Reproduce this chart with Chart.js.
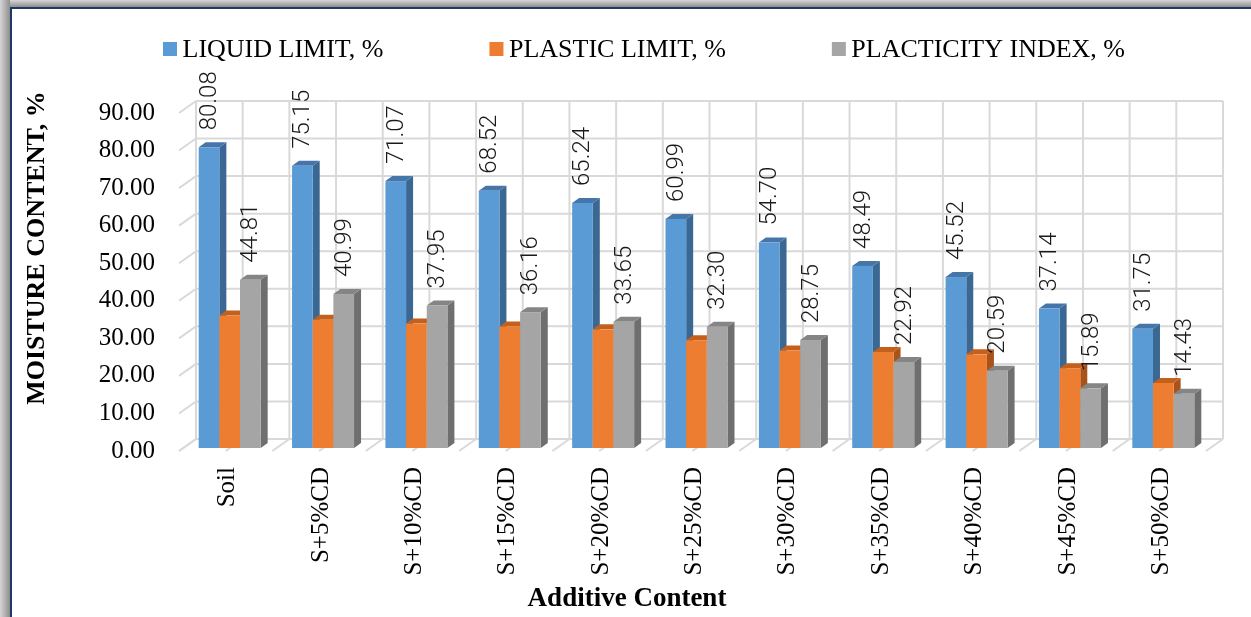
<!DOCTYPE html>
<html>
<head>
<meta charset="utf-8">
<script src="https://cdn.jsdelivr.net/npm/chart.js@4.4.1/dist/chart.umd.min.js"></script>
<style>
  html, body { margin: 0; padding: 0; background: #fff; overflow: hidden; }
  canvas { display: block; }
</style>
</head>
<body>
<canvas id="chart" width="1251" height="617"></canvas>
<script>
// Atterberg limits of the soil with increasing additive content
const categories = ['Soil', 'S+5%CD', 'S+10%CD', 'S+15%CD', 'S+20%CD', 'S+25%CD',
                    'S+30%CD', 'S+35%CD', 'S+40%CD', 'S+45%CD', 'S+50%CD'];
const seriesNames = ['LIQUID LIMIT, %', 'PLASTIC LIMIT, %', 'PLACTICITY INDEX, %'];
const liquidLimit     = [80.08, 75.15, 71.07, 68.52, 65.24, 60.99, 54.70, 48.49, 45.52, 37.14, 31.75];
const plasticLimit    = [35.27, 34.16, 33.12, 32.36, 31.59, 28.69, 25.95, 25.57, 24.93, 21.25, 17.32];
const plasticityIndex = [44.81, 40.99, 37.95, 36.16, 33.65, 32.30, 28.75, 22.92, 20.59, 15.89, 14.43];
const yTickValues = [0, 10, 20, 30, 40, 50, 60, 70, 80, 90];
const yAxisTitle = 'MOISTURE CONTENT, %';
const xAxisTitle = 'Additive Content';

const SERIF = '"Liberation Serif", "Times New Roman", serif';
const faces = [
  { front: '#5B9BD5', side: '#3B6893', top: '#4676A9' },
  { front: '#ED7D31', side: '#A9531A', top: '#C4601C' },
  { front: '#A5A5A5', side: '#6F6F6F', top: '#858585' }
];
// pseudo-3D geometry: back wall offset, bar offset and bar depth
const G = { wallDX: 17, wallDY: -12, barDX: 4, barDY: -3, depthX: 7, depthY: -5, labelGap: 17 };

function line(ctx, x1, y1, x2, y2) {
  ctx.beginPath(); ctx.moveTo(x1, y1); ctx.lineTo(x2, y2); ctx.stroke();
}
function poly(ctx, pts, color) {
  ctx.beginPath();
  ctx.moveTo(pts[0][0], pts[0][1]);
  for (let i = 1; i < pts.length; i++) ctx.lineTo(pts[i][0], pts[i][1]);
  ctx.closePath();
  ctx.fillStyle = color;
  ctx.fill();
}

const bars3d = {
  id: 'bars3d',
  beforeDraw(chart) {
    const ctx = chart.ctx, W = chart.width, H = chart.height;
    ctx.save();
    ctx.fillStyle = '#fff';
    ctx.fillRect(0, 0, W, H);
    let g = ctx.createLinearGradient(0, 0, 10, 0);
    g.addColorStop(0, '#d6d6d6'); g.addColorStop(1, '#8e8e8e');
    ctx.fillStyle = g; ctx.fillRect(0, 0, 10, H);
    g = ctx.createLinearGradient(0, 0, 0, 7);
    g.addColorStop(0, '#d6d6d6'); g.addColorStop(1, '#8e8e8e');
    ctx.fillStyle = g; ctx.fillRect(10, 0, W - 10, 7);
    ctx.strokeStyle = '#1F3864'; ctx.lineWidth = 2;
    ctx.beginPath(); ctx.moveTo(11, H); ctx.lineTo(11, 8); ctx.lineTo(W, 8); ctx.stroke();
    ctx.restore();
  },
  beforeDatasetsDraw(chart) {
    const ctx = chart.ctx, ys = chart.scales.y, a = chart.chartArea;
    const L = a.left, R = a.right;
    const y0 = ys.getPixelForValue(ys.min), yMax = ys.getPixelForValue(ys.max);
    ctx.save();
    // walls and floor
    ctx.strokeStyle = '#D9D9D9'; ctx.lineWidth = 2;
    ys.ticks.forEach(t => {
      const yf = ys.getPixelForValue(t.value), yb = yf + G.wallDY;
      line(ctx, L, yf, L + G.wallDX, yb);
      line(ctx, L + G.wallDX, yb, R + G.wallDX, yb);
    });
    const n = chart.data.labels.length;
    const half = (R - L) / (2 * n);
    for (let k = 0; k <= 2 * n; k++) {
      const xb = L + G.wallDX + k * half;
      line(ctx, xb, y0 + G.wallDY, xb, yMax + G.wallDY);
      line(ctx, xb, y0 + G.wallDY, xb - G.wallDX, y0);
    }
    // bars: side, top, then front so the next bar covers the hidden side
    const labels = [];
    for (let i = 0; i < n; i++) {
      chart.data.datasets.forEach((ds, d) => {
        const el = chart.getDatasetMeta(d).data[i];
        const p = el.getProps(['x', 'y', 'base', 'width'], true);
        const l = p.x - p.width / 2 + G.barDX, r = p.x + p.width / 2 + G.barDX;
        const t = p.y + G.barDY, b = p.base + G.barDY;
        const f = faces[d], dx = G.depthX, dy = G.depthY;
        poly(ctx, [[r, t], [r + dx, t + dy], [r + dx, b + dy], [r, b]], f.side);
        poly(ctx, [[l, t], [l + dx, t + dy], [r + dx, t + dy], [r, t]], f.top);
        ctx.fillStyle = f.front;
        ctx.fillRect(l, t, r - l, b - t);
        if (ds.showValues) labels.push({ x: (l + r) / 2 + 1, y: t - G.labelGap, text: ds.data[i].toFixed(2) });
      });
    }
    ctx.fillStyle = '#1a1a1a';
    ctx.font = '300 24px Roboto, "Open Sans", sans-serif';
    ctx.textAlign = 'left'; ctx.textBaseline = 'middle';
    labels.forEach(lb => {
      ctx.save();
      ctx.translate(lb.x, lb.y);
      ctx.rotate(-Math.PI / 2);
      ctx.fillText(lb.text, 0, 0);
      ctx.restore();
    });
    ctx.restore();
    return false;
  },
  afterDraw(chart) {
    const ctx = chart.ctx;
    ctx.save();
    // legend
    ctx.font = '26px ' + SERIF;
    ctx.textBaseline = 'alphabetic'; ctx.textAlign = 'left';
    let x = 163;
    chart.data.datasets.forEach(ds => {
      ctx.fillStyle = ds.backgroundColor;
      ctx.fillRect(x, 42, 14, 14);
      ctx.fillStyle = '#000';
      ctx.fillText(ds.label, x + 19.5, 57);
      x += 19.5 + ctx.measureText(ds.label).width + 106;
    });
    // axis titles
    ctx.fillStyle = '#000';
    ctx.textAlign = 'center'; ctx.textBaseline = 'middle';
    ctx.font = 'bold 26px ' + SERIF;
    ctx.save();
    ctx.translate(37, 248);
    ctx.rotate(-Math.PI / 2);
    ctx.fillText(yAxisTitle, 0, 0);
    ctx.restore();
    ctx.font = 'bold 27px ' + SERIF;
    ctx.fillText(xAxisTitle, 627, 599);
    ctx.restore();
  }
};

new Chart(document.getElementById('chart'), {
  type: 'bar',
  data: {
    labels: categories,
    datasets: [
      { label: seriesNames[0], data: liquidLimit, backgroundColor: faces[0].front, showValues: true },
      { label: seriesNames[1], data: plasticLimit, backgroundColor: faces[1].front, showValues: false },
      { label: seriesNames[2], data: plasticityIndex, backgroundColor: faces[2].front, showValues: true }
    ]
  },
  options: {
    responsive: false,
    animation: false,
    devicePixelRatio: 1,
    datasets: { bar: { categoryPercentage: 0.664, barPercentage: 1.0 } },
    layout: { padding: { left: 0, right: 45, top: 113, bottom: 0 } },
    plugins: { legend: { display: false }, tooltip: { enabled: false }, title: { display: false } },
    scales: {
      x: {
        grid: { display: false, drawTicks: false },
        border: { display: false },
        ticks: {
          autoSkip: false, maxRotation: 90, minRotation: 90, padding: 16, labelOffset: 2,
          color: '#000', font: { family: SERIF, size: 25 }
        },
        afterFit(s) { s.height = 166; }
      },
      y: {
        min: yTickValues[0],
        max: yTickValues[yTickValues.length - 1],
        grid: { display: false, drawTicks: false },
        border: { display: false },
        ticks: {
          stepSize: yTickValues[1] - yTickValues[0], padding: 24,
          color: '#000', font: { family: SERIF, size: 25 },
          callback: v => Number(v).toFixed(2)
        },
        afterFit(s) { s.width = 179; }
      }
    }
  },
  plugins: [bars3d]
});
</script>
</body>
</html>
